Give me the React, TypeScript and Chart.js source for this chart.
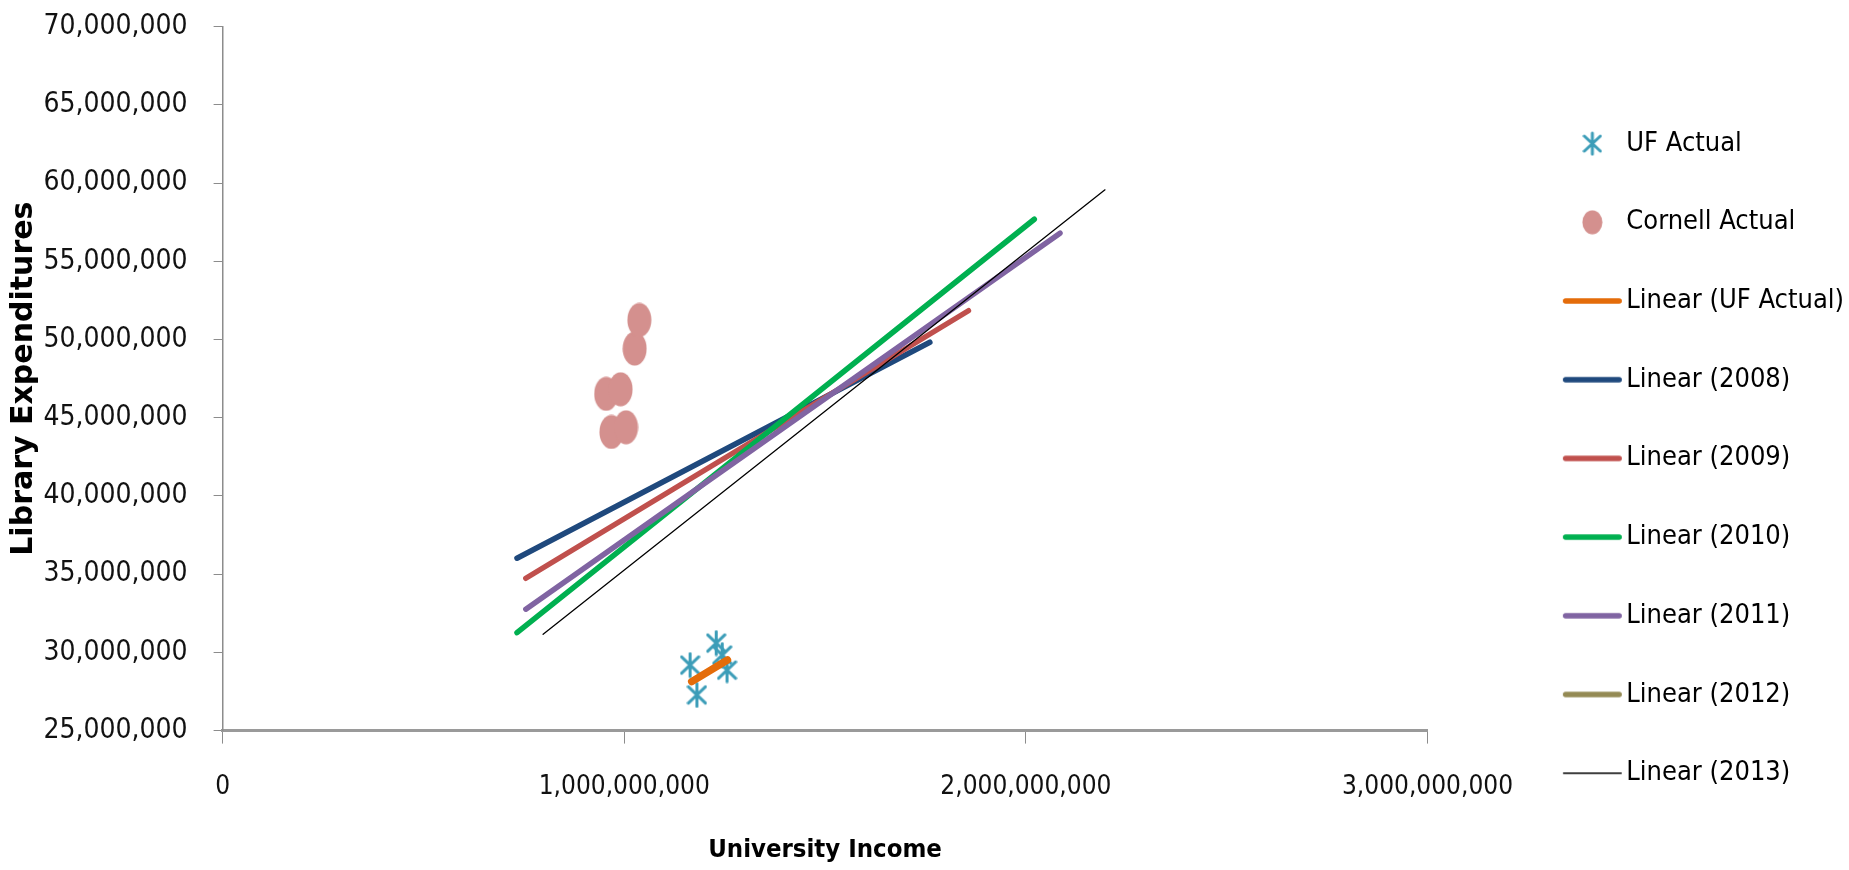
import React, { useEffect, useRef } from 'react';
import { Chart, registerables } from 'chart.js';
Chart.register(...registerables);

const ufIncome = [1.164e9, 1.181e9, 1.229e9, 1.244e9, 1.256e9];
const ufExpend = [29.19e6, 27.28e6, 30.6e6, 29.83e6, 28.87e6];
const cornellIncome = [0.955e9, 0.968e9, 0.991e9, 1.0045e9, 1.026e9, 1.0376e9];
const cornellExpend = [46.53e6, 44.09e6, 46.82e6, 44.39e6, 49.42e6, 51.25e6];

const trendNames = ['Linear (UF Actual)', 'Linear (2008)', 'Linear (2009)', 'Linear (2010)', 'Linear (2011)', 'Linear (2012)', 'Linear (2013)'];
const trendX = [
  [1.168e9, 1.257e9],
  [0.733e9, 1.761e9],
  [0.755e9, 1.857e9],
  [0.733e9, 2.021e9],
  [0.755e9, 2.085e9],
  [],
  [0.798e9, 2.197e9],
];
const trendY = [
  [28.13e6, 29.51e6],
  [36.02e6, 49.83e6],
  [34.74e6, 51.84e6],
  [31.26e6, 57.69e6],
  [32.76e6, 56.8e6],
  [],
  [31.16e6, 59.57e6],
];
const trendColors = ['#E46C0A', '#1F497D', '#C0504D', '#00B050', '#8064A2', '#948A54', '#000000'];
const trendWidths = [7.5, 5.5, 5.5, 5.5, 5.5, 5.5, 1.3];
const trendOrder = [1, 6, 5, 4, 3, 2, 0];

const yTicks = [25e6, 30e6, 35e6, 40e6, 45e6, 50e6, 55e6, 60e6, 65e6, 70e6];
const xTicks = [0, 1e9, 2e9, 3e9];

const STAR_COLOR = '#3C9DB8';
const CORNELL_COLOR = '#D4908E';
const NARROW = '"DejaVu Sans Condensed", "DejaVu Sans", sans-serif';

const PLOT_LEFT = 222.6;
const PLOT_RIGHT = 1427.5;
const PLOT_TOP = 26.7;
const PLOT_BOTTOM = 730.6;
const PAD_LEFT = 5;
const PAD_RIGHT = -5;

function makeStar(w: number, h: number) {
  const c = document.createElement('canvas');
  c.width = w; c.height = h;
  const ctx = c.getContext('2d')!;
  ctx.strokeStyle = STAR_COLOR;
  ctx.lineWidth = 3;
  ctx.lineCap = 'round';
  ctx.beginPath();
  ctx.moveTo(w / 2, 2); ctx.lineTo(w / 2, h - 2);
  ctx.moveTo(2, h * 0.2); ctx.lineTo(w - 2, h * 0.8);
  ctx.moveTo(w - 2, h * 0.2); ctx.lineTo(2, h * 0.8);
  ctx.stroke();
  return c;
}
function makeEllipse(w: number, h: number) {
  const c = document.createElement('canvas');
  c.width = w; c.height = h;
  const ctx = c.getContext('2d')!;
  ctx.fillStyle = CORNELL_COLOR;
  ctx.beginPath();
  ctx.ellipse(w / 2, h / 2, w / 2 - 0.5, h / 2 - 0.5, 0, 0, Math.PI * 2);
  ctx.fill();
  return c;
}
function makeLine(w: number, lw: number, color: string) {
  const h = Math.ceil(lw) + 4;
  const c = document.createElement('canvas');
  c.width = w; c.height = h;
  const ctx = c.getContext('2d')!;
  ctx.strokeStyle = color;
  ctx.lineWidth = lw;
  ctx.lineCap = 'round';
  ctx.beginPath();
  ctx.moveTo(lw / 2 + 1, h / 2); ctx.lineTo(w - lw / 2 - 1, h / 2);
  ctx.stroke();
  return c;
}

const fmt = (v: number) => Number(v).toLocaleString('en-US');

export default function App() {
  const ref = useRef<HTMLCanvasElement>(null);
  useEffect(() => {
    const starPt = makeStar(21, 27);
    const ellPt = makeEllipse(25, 35);
    const legendIcons: any[] = [makeStar(20, 25), makeEllipse(21, 25)];
    trendColors.forEach((c, i) => legendIcons.push(makeLine(61, Math.min(trendWidths[i], 5.5), c)));

    const datasets: any[] = [
      {
        label: 'UF Actual',
        data: ufIncome.map((x, i) => ({ x, y: ufExpend[i] })),
        pointStyle: starPt, pointRadius: 10, order: 8,
      },
      {
        label: 'Cornell Actual',
        data: cornellIncome.map((x, i) => ({ x, y: cornellExpend[i] })),
        pointStyle: ellPt, pointRadius: 12, order: 9,
      },
      ...trendNames.map((name, i) => ({
        label: name,
        data: trendX[i].map((x, j) => ({ x, y: trendY[i][j] })),
        showLine: true,
        borderColor: trendColors[i],
        backgroundColor: trendColors[i],
        borderWidth: trendWidths[i],
        borderCapStyle: 'round',
        pointRadius: 0,
        order: trendOrder[i],
      })),
    ];

    const chart = new Chart(ref.current!, {
      type: 'scatter',
      data: { datasets },
      options: {
        animation: false,
        responsive: false,
        layout: { padding: { left: PAD_LEFT, top: 0, right: PAD_RIGHT, bottom: 0 } },
        plugins: {
          tooltip: { enabled: false },
          legend: {
            position: 'right',
            align: 'start',
            title: { display: true, text: ' ', padding: { top: 0, bottom: 64 }, font: { size: 12 } },
            labels: {
              usePointStyle: true,
              pointStyleWidth: 41,
              padding: 51.7,
              color: '#000',
              font: { family: NARROW, size: 27 },
              sort: (a: any, b: any) => a.datasetIndex - b.datasetIndex,
              generateLabels: (ch: any) => {
                const items = (Chart.defaults.plugins.legend.labels as any).generateLabels(ch);
                return items.map((it: any) => ({ ...it, pointStyle: legendIcons[it.datasetIndex], lineWidth: 0, strokeStyle: 'rgba(0,0,0,0)' }));
              },
            },
          },
        },
        scales: {
          x: {
            type: 'linear', min: 0, max: 3e9,
            afterBuildTicks: (s: any) => { s.ticks = xTicks.map((v) => ({ value: v })); },
            ticks: { callback: (v: any) => fmt(v), color: '#111', font: { family: NARROW, size: 26 }, padding: 28, maxRotation: 0 },
            grid: { drawOnChartArea: false, drawTicks: true, tickLength: 13, color: '#8c8c8c' },
            border: { color: '#9a9a9a', width: 3 },
            title: { display: true, text: 'University Income', color: '#000', font: { family: NARROW, size: 25.5, weight: 'bold' }, padding: { top: 0, bottom: 4.4 } },
            afterFit: (s: any) => { s.height = 870 - PLOT_BOTTOM; s.paddingLeft = 0; s.paddingRight = 0; },
          },
          y: {
            type: 'linear', min: 25e6, max: 70e6,
            afterBuildTicks: (s: any) => { s.ticks = yTicks.map((v) => ({ value: v })); },
            ticks: { callback: (v: any) => fmt(v), color: '#111', font: { family: NARROW, size: 28 }, padding: 26 },
            grid: { drawOnChartArea: false, drawTicks: true, tickLength: 9, color: '#8c8c8c' },
            border: { color: '#8c8c8c', width: 1.5 },
            title: { display: true, text: 'Library Expenditures', color: '#000', font: { family: '"DejaVu Sans"', size: 30, weight: 'bold' }, padding: { top: 1, bottom: 0 } },
            afterFit: (s: any) => { s.width = PLOT_LEFT - PAD_LEFT; s.paddingTop = PLOT_TOP; s.paddingBottom = 0; },
          },
          y2: {
            type: 'linear', position: 'right', min: 0, max: 1, display: false,
            afterFit: (s: any) => {
              const lw = s.chart.legend ? s.chart.legend.width : 334;
              s.width = Math.max(0, 1849 - PAD_RIGHT - lw - PLOT_RIGHT);
            },
          },
        },
      } as any,
    });
    return () => chart.destroy();
  }, []);
  return (
    <div style={{ position: 'fixed', left: 0, top: 0, width: 1849, height: 870, background: '#fff' }}>
      <canvas ref={ref} width={1849} height={870} style={{ display: 'block' }} />
    </div>
  );
}
